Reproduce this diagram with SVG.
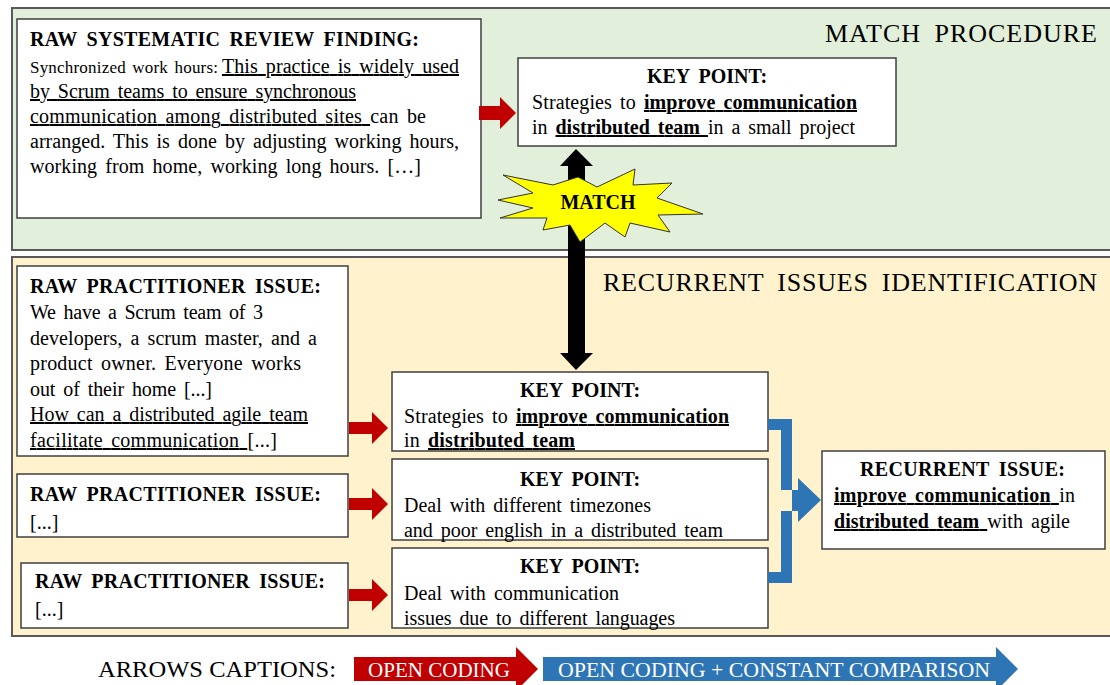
<svg xmlns="http://www.w3.org/2000/svg" width="1110" height="685" viewBox="0 0 1110 685">
<defs>
<style>
text { font-family: "Liberation Serif", "Times New Roman", serif; fill: #000; }
.t { font-size: 20px; font-weight: bold; word-spacing: 4px; }
.b { font-size: 20px; word-spacing: 3px; }
.s { font-size: 17px; word-spacing: 2px; }
.h { font-size: 26px; word-spacing: 6px; }
.u { text-decoration: underline; }
.bu { font-weight: bold; text-decoration: underline; }
.box { fill: #fff; stroke: #3f3f3f; stroke-width: 1.5; }
.panel { stroke: #595959; stroke-width: 2; }
.red { fill: #C00000; }
.blue { fill: #2E75B6; }
.cap { font-size: 21px; fill: #fff; }
</style>
</defs>
<rect width="1110" height="685" fill="#fff"/>

<g id="panel-match">
<rect class="panel" x="12" y="8" width="1110" height="242" fill="#E2EFDA"/>
<text class="h" x="825" y="42" textLength="272" lengthAdjust="spacing">MATCH PROCEDURE</text>
</g>
<g id="panel-recurrent">
<rect class="panel" x="12" y="257" width="1110" height="379" fill="#FFF2CC"/>
<text class="h" x="603" y="291" textLength="494" lengthAdjust="spacing">RECURRENT ISSUES IDENTIFICATION</text>
</g>

<g id="raw-review">
<rect class="box" x="17" y="19" width="464" height="199"/>
<text class="t" x="30" y="46" textLength="389" lengthAdjust="spacing">RAW SYSTEMATIC REVIEW FINDING:</text>
<text class="s" x="30" y="73" textLength="188" lengthAdjust="spacing">Synchronized work hours:</text>
<text class="b u" x="222" y="73" textLength="237" lengthAdjust="spacing">This practice is widely used</text>
<text class="b u" x="30" y="98" textLength="326" lengthAdjust="spacing">by Scrum teams to ensure synchronous</text>
<text class="b" x="30" y="123" textLength="396" lengthAdjust="spacing"><tspan class="u">communication among distributed sites </tspan>can be</text>
<text class="b" x="30" y="148" textLength="429" lengthAdjust="spacing">arranged. This is done by adjusting working hours,</text>
<text class="b" x="30" y="173" textLength="391" lengthAdjust="spacing">working from home, working long hours. […]</text>
</g>

<g id="keypoint-match">
<rect class="box" x="518" y="58" width="378" height="88"/>
<text class="t" x="707" y="83" text-anchor="middle">KEY POINT:</text>
<text class="b" x="532" y="109" textLength="325" lengthAdjust="spacing">Strategies to <tspan class="bu">improve communication</tspan></text>
<text class="b" x="532" y="134" textLength="323" lengthAdjust="spacing">in <tspan class="bu">distributed team </tspan>in a small project</text>
</g>

<g id="raw-issue-1">
<rect class="box" x="17" y="266" width="331" height="190"/>
<text class="t" x="30" y="293" textLength="291" lengthAdjust="spacing">RAW PRACTITIONER ISSUE:</text>
<text class="b" x="30" y="319" textLength="233" lengthAdjust="spacing">We have a Scrum team of 3</text>
<text class="b" x="30" y="345" textLength="287" lengthAdjust="spacing">developers, a scrum master, and a</text>
<text class="b" x="30" y="370" textLength="271" lengthAdjust="spacing">product owner. Everyone works</text>
<text class="b" x="30" y="396" textLength="182" lengthAdjust="spacing">out of their home [...]</text>
<text class="b u" x="30" y="421" textLength="278" lengthAdjust="spacing">How can a distributed agile team</text>
<text class="b" x="30" y="447" textLength="247" lengthAdjust="spacing"><tspan class="u">facilitate communication </tspan>[...]</text>
</g>

<g id="raw-issue-2">
<rect class="box" x="17" y="474" width="331" height="63"/>
<text class="t" x="30" y="501" textLength="291" lengthAdjust="spacing">RAW PRACTITIONER ISSUE:</text>
<text class="b" x="30" y="529">[...]</text>
</g>

<g id="raw-issue-3">
<rect class="box" x="21" y="563" width="327" height="65"/>
<text class="t" x="35" y="588" textLength="290" lengthAdjust="spacing">RAW PRACTITIONER ISSUE:</text>
<text class="b" x="35" y="616">[...]</text>
</g>

<g id="keypoint-1">
<rect class="box" x="392" y="372" width="376" height="79"/>
<text class="t" x="580" y="397" text-anchor="middle">KEY POINT:</text>
<text class="b" x="404" y="423" textLength="325" lengthAdjust="spacing">Strategies to <tspan class="bu">improve communication</tspan></text>
<text class="b" x="404" y="447" textLength="171" lengthAdjust="spacing">in <tspan class="bu">distributed team</tspan></text>
</g>

<g id="keypoint-2">
<rect class="box" x="392" y="459" width="376" height="81"/>
<text class="t" x="580" y="486" text-anchor="middle">KEY POINT:</text>
<text class="b" x="404" y="512" textLength="247" lengthAdjust="spacing">Deal with different timezones</text>
<text class="b" x="404" y="537" textLength="319" lengthAdjust="spacing">and poor english in a distributed team</text>
</g>

<g id="keypoint-3">
<rect class="box" x="392" y="548" width="376" height="80"/>
<text class="t" x="580" y="573" text-anchor="middle">KEY POINT:</text>
<text class="b" x="404" y="600" textLength="215" lengthAdjust="spacing">Deal with communication</text>
<text class="b" x="404" y="625" textLength="271" lengthAdjust="spacing">issues due to different languages</text>
</g>

<g id="recurrent-issue">
<rect class="box" x="822" y="451" width="283" height="98"/>
<text class="t" x="860" y="476" textLength="205" lengthAdjust="spacing">RECURRENT ISSUE:</text>
<text class="b" x="834" y="502" textLength="241" lengthAdjust="spacing"><tspan class="bu">improve communication </tspan>in</text>
<text class="b" x="834" y="528" textLength="236" lengthAdjust="spacing"><tspan class="bu">distributed team </tspan>with agile</text>
</g>

<g id="connectors">
<polygon class="red" points="479,106 500,106 500,97 516,113 500,129 500,120 479,120"/>
<polygon class="red" points="349,422 372,422 372,412 388,428 372,444 372,434 349,434"/>
<polygon class="red" points="349,498 372,498 372,488 388,504 372,520 372,510 349,510"/>
<polygon class="red" points="349,589 372,589 372,579 388,595 372,611 372,601 349,601"/>
<path class="blue" d="M768,419 H792 V583 H768 V572 H781 V511 H798 V522 L821,500 L798,478 V490 H781 V430 H768 Z"/>
<polygon fill="#000" points="576,149 593,166 585,166 585,353 593,353 576,370 560,353 568,353 568,166 560,166"/>
</g>

<g id="match-star">
<polygon fill="#FFFF00" stroke="#333" stroke-width="1" points="498,200 533,193 503,175 553,185 578,177 597,187 635,169 633,185 672,183 657,198 703,214 658,215 670,232 630,223 625,237 605,223 580,242 570,225 543,230 547,218 500,218 533,208"/>
<text class="t" x="598" y="209" text-anchor="middle">MATCH</text>
</g>

<g id="caption">
<text x="98" y="677" font-size="24" textLength="238" lengthAdjust="spacingAndGlyphs">ARROWS CAPTIONS:</text>
<polygon class="red" points="354,657 516,657 516,647 538,669 516,691 516,681 354,681"/>
<text class="cap" x="368" y="677" textLength="142" lengthAdjust="spacingAndGlyphs">OPEN CODING</text>
<polygon class="blue" points="543,657 996,657 996,647 1018,669 996,691 996,681 543,681"/>
<text class="cap" x="558" y="677" textLength="432" lengthAdjust="spacingAndGlyphs">OPEN CODING + CONSTANT COMPARISON</text>
</g>
</svg>
